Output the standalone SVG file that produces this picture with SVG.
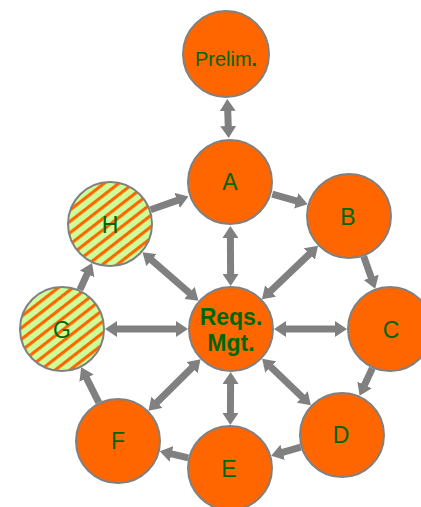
<svg xmlns="http://www.w3.org/2000/svg" width="421" height="507" viewBox="0 0 421 507">
<style>
.n{fill:#FF6600;stroke:#808080;stroke-width:2}
.h{fill:url(#hatch);stroke:#808080;stroke-width:2}
.t{font-family:"Liberation Sans",Arial,sans-serif;font-size:23px;fill:#006600;text-anchor:middle}
.b{font-weight:bold}
.c line{stroke:#808080;stroke-width:7}
.e{marker-end:url(#ah)}
.d{marker-start:url(#ah);marker-end:url(#ah)}
</style>
<defs>
<marker id="ah" markerUnits="userSpaceOnUse" markerWidth="12" markerHeight="16" viewBox="0 0 12 16" refX="1" refY="8" orient="auto-start-reverse">
<path d="M0,0 L12,8 L0,16 z" fill="#808080"/>
</marker>
<pattern id="hatch" patternUnits="userSpaceOnUse" width="9" height="9" patternTransform="rotate(-38)">
<rect width="9" height="9" fill="#CCFF99"/>
<rect width="9" height="3.2" fill="#FF6600"/>
</pattern>
</defs>
<g id="connectors" class="c">
<line class="d" x1="227.7" y1="110" x2="228.3" y2="127"/>
<line class="e" x1="272.3" y1="194.1" x2="297.1" y2="201.2"/>
<line class="e" x1="363.7" y1="256.4" x2="371.5" y2="278.3"/>
<line class="e" x1="372.3" y1="368.2" x2="364.2" y2="385.8"/>
<line class="e" x1="300.8" y1="447.2" x2="281.7" y2="452.7"/>
<line class="e" x1="188.2" y1="457.9" x2="170.5" y2="453.7"/>
<line class="e" x1="98.8" y1="402.6" x2="86.1" y2="377.2"/>
<line class="e" x1="79.9" y1="289.9" x2="87.5" y2="273.1"/>
<line class="e" x1="150.6" y1="209.8" x2="178.1" y2="200.1"/>
<line class="d" x1="230.6" y1="275" x2="230.4" y2="237"/>
<line class="d" x1="269.9" y1="291.7" x2="310.1" y2="253.4"/>
<line class="d" x1="285" y1="329" x2="336" y2="329"/>
<line class="d" x1="270.1" y1="366.3" x2="302.9" y2="397.7"/>
<line class="d" x1="230.6" y1="383" x2="230.4" y2="414"/>
<line class="d" x1="192.7" y1="367" x2="156.3" y2="403"/>
<line class="d" x1="177" y1="329" x2="116" y2="329"/>
<line class="d" x1="190.2" y1="293.6" x2="150.8" y2="259.4"/>
</g>
<g id="prelim"><circle class="n" cx="226" cy="54" r="43"/><text class="t" x="226" y="66" style="font-size:20px">Prelim<tspan class="b">.</tspan></text></g>
<g id="A"><circle class="n" cx="230" cy="182" r="42"/><text class="t" x="230" y="190">A</text></g>
<g id="B"><circle class="n" cx="349" cy="216" r="42"/><text class="t" x="348" y="225">B</text></g>
<g id="C"><circle class="n" cx="390" cy="329" r="42"/><text class="t" x="391" y="338">C</text></g>
<g id="D"><circle class="n" cx="342" cy="435" r="42"/><text class="t" x="341" y="443">D</text></g>
<g id="E"><circle class="n" cx="230" cy="468" r="42"/><text class="t" x="229" y="477">E</text></g>
<g id="F"><circle class="n" cx="118" cy="441" r="42"/><text class="t" x="118" y="449">F</text></g>
<g id="G"><circle class="h" cx="62" cy="329" r="42"/><text class="t" x="62" y="338">G</text></g>
<g id="H"><circle class="h" cx="110" cy="224" r="42"/><text class="t" x="110" y="233">H</text></g>
<g id="reqs"><circle class="n" cx="231" cy="329" r="42"/><text class="t b" x="231" y="325">Reqs.</text><text class="t b" x="231" y="351">Mgt.</text></g>
</svg>
